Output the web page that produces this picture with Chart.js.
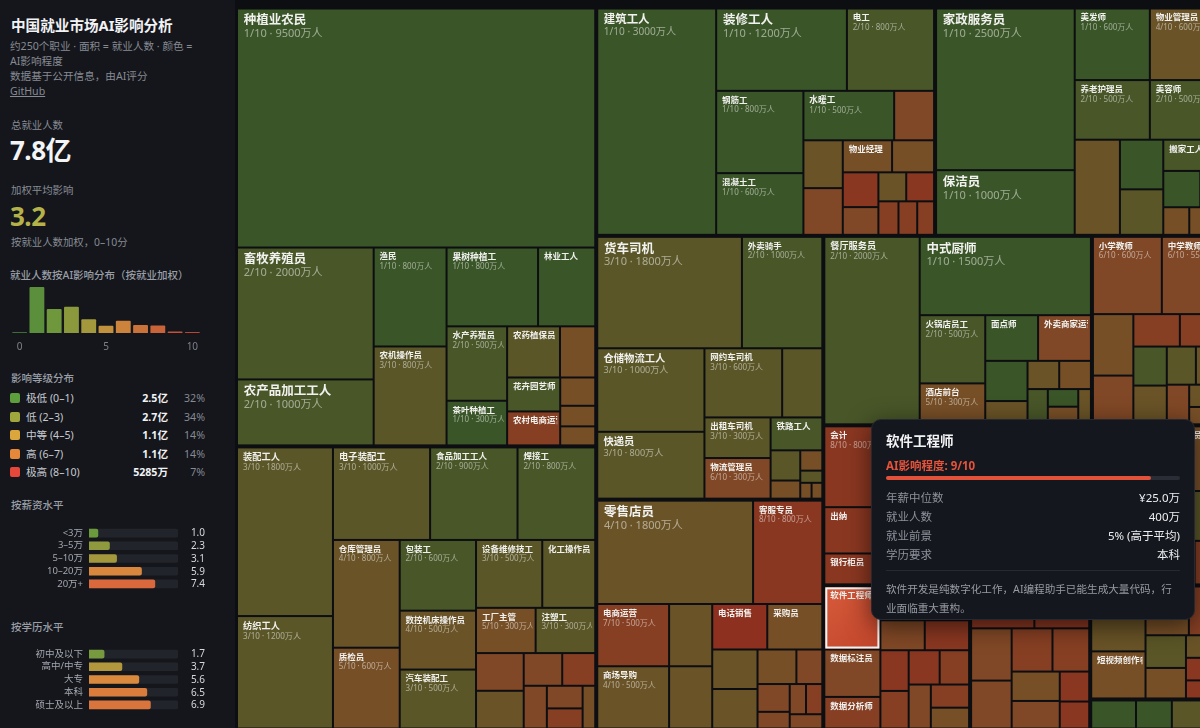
<!DOCTYPE html>
<html lang="zh-CN">
<head>
<meta charset="utf-8">
<title>中国就业市场AI影响分析</title>
<script src="https://cdn.jsdelivr.net/npm/chart.js@4.4.1/dist/chart.umd.min.js"></script>
<style>
  html, body { margin:0; padding:0; width:1200px; height:728px; overflow:hidden; background:#0c0e12; }
  body { position:relative; font-family:"Noto Sans","Noto Sans CJK SC",sans-serif; color:#e8e9eb; }
  #side { position:absolute; left:0; top:0; width:235px; height:728px; background:#14161c; }
  .a { position:absolute; white-space:nowrap; }
  .g { color:#878b93; font-size:10.4px; line-height:16px; }
  .h { color:#9a9ea6; font-size:10.5px; line-height:16px; font-weight:500; }
  #title { left:11px; top:15px; font-size:14.6px; line-height:20px; font-weight:700; color:#f1f2f4; }
  #sub { left:10px; top:38.5px; font-size:10.6px; line-height:15px; color:#868a92; }
  #sub u { color:#868a92; }
  .big { left:10px; font-size:26px; line-height:30px; font-weight:700; letter-spacing:-0.5px; }
  .lg { position:absolute; left:0; width:235px; height:18px; font-size:10.6px; line-height:18px; }
  .lg i { position:absolute; left:10px; top:4px; width:10px; height:10px; border-radius:2px; }
  .lg .n { position:absolute; left:26px; color:#c6c9cf; }
  .lg .v { position:absolute; right:67px; color:#f1f2f4; font-weight:700; }
  .lg .p { position:absolute; right:30px; color:#868a92; }
  canvas { position:absolute; }
  #tm { left:236px; top:0; }
  #tip { position:absolute; left:871px; top:419px; width:324px; height:201px; box-sizing:border-box;
         background:#15171e; border:1px solid #262931; border-radius:10px; box-shadow:0 6px 24px rgba(0,0,0,0.55); }
  #tip .tt { position:absolute; left:14px; top:11px; font-size:13.5px; line-height:20px; font-weight:700; color:#f3f4f6; }
  #tip .ta { position:absolute; left:14px; top:38px; font-size:11.5px; line-height:16px; font-weight:700; color:#e5533b; }
  #tip .tb { position:absolute; left:14px; top:56px; width:294px; height:4px; border-radius:2px; background:#2a2d35; }
  #tip .tbf { height:4px; border-radius:2px; background:#e2523a; }
  #tip .tr { position:absolute; left:14px; width:294px; height:19px; font-size:11.5px; line-height:19px; }
  #tip .tr .l { position:absolute; left:0; color:#8e929b; }
  #tip .tr .r { position:absolute; right:0; color:#eceef1; }
  #tip .td { position:absolute; left:14px; top:150px; width:294px; height:1px; background:#262932; }
  #tip .tx { position:absolute; left:14px; top:159.5px; width:300px; font-size:10.6px; line-height:19px; color:#979ba3; white-space:nowrap; }
</style>
</head>
<body>
<div id="side">
  <div class="a" id="title">中国就业市场AI影响分析</div>
  <div class="a" id="sub">约250个职业 · 面积 = 就业人数 · 颜色 =<br>AI影响程度<br>数据基于公开信息，由AI评分<br><u>GitHub</u></div>
  <div class="a g" style="left:11px;top:117px;">总就业人数</div>
  <div class="a big" id="totalNum" style="top:135px;color:#f3f4f6;"></div>
  <div class="a g" style="left:11px;top:182px;">加权平均影响</div>
  <div class="a big" id="avgNum" style="top:201px;color:#b5b24a;"></div>
  <div class="a g" style="left:11px;top:234px;">按就业人数加权，0–10分</div>
  <div class="a h" style="left:10px;top:267px;">就业人数按AI影响分布（按就业加权）</div>
  <canvas id="hist" width="197" height="77" style="left:9px;top:283px;"></canvas>
  <div class="a h" style="left:11px;top:370px;">影响等级分布</div>
  <div id="legend"></div>
  <div class="a h" style="left:11px;top:497px;">按薪资水平</div>
  <canvas id="sal" width="235" height="87" style="left:0;top:515px;"></canvas>
  <div class="a h" style="left:11px;top:619px;">按学历水平</div>
  <canvas id="edu" width="235" height="87" style="left:0;top:636px;"></canvas>
</div>
<canvas id="tm" width="990" height="736"></canvas>
<div id="tip"></div>

<script>
const FONT = '"Noto Sans", "Noto Sans CJK SC", sans-serif';

// ---------- sidebar data ----------
const totalLabel = '7.8亿';
const avgLabel = '3.2';
const histLabels = ['0','1','2','3','4','5','6','7','8','9','10'];
const histShown = ['0','5','10'];
const histValues = [500, 24500, 12800, 14000, 7300, 3800, 6500, 4300, 4000, 800, 485];
const histColors = ['#3f6e35','#5b8f3b','#6f973c','#8b993c','#a3983c','#c2913e','#cc833c','#c9733a','#c86438','#c45136','#b94533'];

const levelNames = ['极低 (0–1)','低 (2–3)','中等 (4–5)','高 (6–7)','极高 (8–10)'];
const levelValues = ['2.5亿','2.7亿','1.1亿','1.1亿','5285万'];
const levelPct = ['32%','34%','14%','14%','7%'];
const levelColors = ['#5c9f3c','#9ea63c','#dba63c','#e6883a','#e5473b'];

const salaryLabels = ['<3万','3–5万','5–10万','10–20万','20万+'];
const salaryValues = [1.0, 2.3, 3.1, 5.9, 7.4];
const salaryColors = ['#6b9a3d','#8e9a3d','#a4983d','#d8873d','#d9693c'];
const eduLabels = ['初中及以下','高中/中专','大专','本科','硕士及以上'];
const eduValues = [1.7, 3.7, 5.6, 6.5, 6.9];
const eduColors = ['#769a3d','#b3973d','#d98a3d','#d97c3c','#d9743c'];

// ---------- treemap data ----------
const groupNames = ['农林牧渔','制造业','建筑','生活服务','交通物流','零售销售','餐饮住宿','教育','金融财务','信息技术','医疗卫生','行政办公','商务服务','文化传媒','公共服务'];
const jobNames = [
  ['种植业农民','畜牧养殖员','农产品加工工人','渔民','农机操作员','果树种植工','林业工人','水产养殖员','茶叶种植工','农药植保员','兽医','花卉园艺师','农村电商运营','饲料加工工','农技推广员','护林员'],
  ['装配工人','纺织工人','电子装配工','食品加工工人','焊接工','仓库管理员','质检员','包装工','数控机床操作员','汽车装配工','设备维修技工','化工操作员','工厂主管','注塑工','生产计划员','钳工','物料员','工艺工程师','安全员','电镀工','制图员','锅炉工'],
  ['建筑工人','装修工人','电工','钢筋工','混凝土工','水暖工','工程预算员','瓦工','建筑制图员','物业经理','安全监理','工程造价师','施工员','油漆工','资料员','测绘员','建筑设计师','质量检测员'],
  ['家政服务员','保洁员','美发师','物业管理员','养老护理员','美容师','洗衣店员工','月嫂','洗车工','搬家工人','育婴师','宠物美容师','摄影助理','婚礼策划师','修鞋匠'],
  ['货车司机','外卖骑手','仓储物流工人','快递员','网约车司机','公交司机','出租车司机','物流管理员','铁路工人','港口装卸工','调度员','货运代理','叉车司机','航空地勤','船员'],
  ['零售店员','客服专员','电商运营','商场导购','收银员','超市理货员','电话销售','采购员','促销员','房产中介','保险销售','市场专员','汽车销售','药店店员','珠宝销售','直播带货','奢侈品顾问'],
  ['餐厅服务员','中式厨师','火锅店员工','酒店前台','面点师','外卖商家运营','西餐厨师','咖啡师','奶茶店员','客房服务员','洗碗工','烧烤师傅','调酒师','餐饮店长'],
  ['小学教师','中学教师','大学教师','培训讲师','家教','教务管理员','幼儿园教师','体育教练','特殊教育教师','职业培训师','课程设计师','图书管理员','教育顾问'],
  ['会计','保险代理人','出纳','银行柜员','审计师','理财顾问','税务专员','保险理赔员'],
  ['软件工程师','数据标注员','数据分析师','产品经理','测试工程师','运维工程师','UI设计师','网页设计师','算法工程师','前端开发','游戏策划','IT技术支持','数据库管理员','网络安全工程师'],
  ['护士','医生','药剂师','医疗器械销售','护工','检验技师','康复治疗师','影像技师','牙科助理','中医'],
  ['行政文员','公务员','人力资源专员','前台接待','秘书','社区工作者','法律助理','档案管理员'],
  ['翻译','文案策划','律师','咨询顾问','市场调研员','广告设计师','会展策划','公关专员','编辑','校对员'],
  ['主播','短视频创作者','摄影师','记者','演员','音乐人','导演','剪辑师','配音员'],
  ['环卫工人','消防员','园林绿化工','停车管理员']
];
const jobValues = [
  [9500,2000,1000,800,800,800,500,500,300,300,200,200,200,110,80,74],
  [1800,1200,1000,900,800,800,600,600,500,500,500,400,300,300,200,200,140,120,110,90,80,60],
  [3000,1200,800,800,600,500,220,210,205,176,150,138,110,90,90,75,70,63],
  [2500,1000,600,600,500,500,480,240,220,215,150,100,80,60,50],
  [1800,1000,1000,800,600,310,300,300,190,100,60,50,30,20,19],
  [1800,800,500,500,300,300,280,280,200,200,150,100,100,60,55,55,52],
  [2000,1500,500,300,270,270,190,110,100,100,80,60,60,50],
  [600,550,280,222,170,165,147,146,125,125,100,90,70],
  [800,520,300,200,200,200,190,170],
  [400,300,200,180,160,150,150,130,120,120,114,110,100,90],
  [500,400,250,200,200,180,170,150,130,120],
  [500,400,300,250,200,200,200,150],
  [300,260,240,220,200,180,160,150,100,90],
  [400,290,240,200,150,140,100,100,80],
  [150,120,100,78]
];
const jobScores = [
  [1,2,2,1,3,1,1,2,1,3,5,2,7,5,5,5],
  [3,3,3,2,2,4,5,2,4,3,3,3,5,3,6,4,6,7,6,6,7,5],
  [1,1,2,1,1,1,6,4,6,5,5,8,6,4,8,7,7,7],
  [1,1,1,4,2,2,4,1,3,2,1,1,5,5,2],
  [3,2,3,3,3,3,3,6,2,3,5,5,3,5,5],
  [4,8,7,4,4,4,9,5,4,4,5,6,6,6,6,7,6],
  [2,1,2,5,1,6,1,4,4,5,2,1,5,4],
  [6,6,5,6,7,7,2,4,3,4,6,4,5],
  [8,6,8,8,7,7,8,8],
  [9,6,7,7,8,6,8,8,7,8,7,6,7,5],
  [3,4,6,5,1,5,3,7,3,3],
  [8,5,7,6,8,3,8,7],
  [8,8,6,6,7,7,5,6,8,8],
  [4,5,5,7,3,5,4,8,8],
  [1,1,3,2]
];
const scoreColors = ['#33552a','#3a5527','#485628','#5a5627','#695327','#774f27','#804826','#863f23','#8a3721','#8e301f','#90291d'];
const highlightJob = '软件工程师';

// ---------- tooltip data ----------
const tipTitle = '软件工程师';
const tipScore = 9;
const tipRowLabels = ['年薪中位数','就业人数','就业前景','学历要求'];
const tipRowValues = ['¥25.0万','400万','5% (高于平均)','本科'];
const tipDesc = ['软件开发是纯数字化工作，AI编程助手已能生成大量代码，行','业面临重大重构。'];

Chart.defaults.font.family = FONT;

// ---------- sidebar ----------
document.getElementById('totalNum').textContent = totalLabel;
document.getElementById('avgNum').textContent = avgLabel;
const legendEl = document.getElementById('legend');
const legendY = [398, 416.5, 435, 453.5, 472];
levelNames.forEach((n, i) => {
  const d = document.createElement('div');
  d.className = 'lg';
  d.style.top = (legendY[i] - 9) + 'px';
  d.innerHTML = `<i style="background:${levelColors[i]}"></i><span class="n">${n}</span><span class="v">${levelValues[i]}</span><span class="p">${levelPct[i]}</span>`;
  legendEl.appendChild(d);
});

new Chart(document.getElementById('hist'), {
  type: 'bar',
  data: { labels: histLabels, datasets: [{ data: histValues, backgroundColor: histColors, categoryPercentage: 1, barPercentage: 0.86, borderRadius: 1 }] },
  options: {
    responsive: false, animation: false, events: [],
    layout: { padding: 0 },
    plugins: { legend: { display: false }, tooltip: { enabled: false } },
    scales: {
      x: { grid: { display: false, drawTicks: false }, border: { display: false },
           ticks: { color: '#7d8189', font: { size: 10 }, padding: 8, autoSkip: false, maxRotation: 0,
                    callback: (v, i) => histShown.includes(histLabels[i]) ? histLabels[i] : '' },
           afterFit: s => { s.height = 27; } },
      y: { display: false, min: 0, max: 26630 }
    }
  }
});

const valuePlugin = {
  id: 'vals',
  afterDraw(chart) {
    const { ctx } = chart; const ys = chart.scales.y; const vals = chart.data.datasets[0].data;
    ctx.save();
    ctx.font = '10px ' + FONT; ctx.fillStyle = '#d6d8dc'; ctx.textAlign = 'right'; ctx.textBaseline = 'middle';
    vals.forEach((v, i) => ctx.fillText(v.toFixed(1), 205, ys.getPixelForValue(i) + 0.5));
    ctx.restore();
  }
};
function barList(id, labels, values, colors) {
  new Chart(document.getElementById(id), {
    type: 'bar',
    data: { labels, datasets: [
      { data: values, backgroundColor: colors, barThickness: 8, borderRadius: 2, grouped: false, order: 0 },
      { data: labels.map(() => 10), backgroundColor: '#21242b', barThickness: 8, borderRadius: 2, grouped: false, order: 1 }
    ] },
    options: {
      indexAxis: 'y', responsive: false, animation: false, events: [],
      layout: { padding: { left: 0, right: 57, top: 0, bottom: 0 } },
      plugins: { legend: { display: false }, tooltip: { enabled: false } },
      scales: {
        x: { min: 0, max: 10, display: false },
        y: { grid: { display: false, drawTicks: false }, border: { display: false },
             ticks: { color: '#a3a7ae', font: { size: 9.5 }, padding: 6 },
             afterFit: s => { s.width = 89; } }
      }
    },
    plugins: [valuePlugin]
  });
}
barList('sal', salaryLabels, salaryValues, salaryColors);
barList('edu', eduLabels, eduValues, eduColors);

// ---------- treemap layout (squarify, ratio 1) ----------
function squarify(nodes, x0, y0, x1, y1) {
  let value = nodes.reduce((s, n) => s + n.value, 0);
  let i0 = 0, i1 = 0; const n = nodes.length;
  while (i0 < n) {
    const dx = x1 - x0, dy = y1 - y0;
    let sumValue = nodes[i1++].value;
    let minValue = sumValue, maxValue = sumValue;
    const alpha = Math.max(dy / dx, dx / dy) / value;
    let beta = sumValue * sumValue * alpha;
    let minRatio = Math.max(maxValue / beta, beta / minValue);
    for (; i1 < n; ++i1) {
      const nv = nodes[i1].value;
      sumValue += nv;
      if (nv < minValue) minValue = nv;
      if (nv > maxValue) maxValue = nv;
      beta = sumValue * sumValue * alpha;
      const newRatio = Math.max(maxValue / beta, beta / minValue);
      if (newRatio > minRatio) { sumValue -= nv; break; }
      minRatio = newRatio;
    }
    const row = nodes.slice(i0, i1);
    if (dx < dy) {
      const yy = i1 < n ? y0 + dy * sumValue / value : y1;
      let xx = x0; const k = (x1 - x0) / sumValue;
      row.forEach(nd => { nd.x0 = xx; xx += nd.value * k; nd.x1 = xx; nd.y0 = y0; nd.y1 = yy; });
      y0 = yy;
    } else {
      const xx = i1 < n ? x0 + dx * sumValue / value : x1;
      let yy = y0; const k = (y1 - y0) / sumValue;
      row.forEach(nd => { nd.y0 = yy; yy += nd.value * k; nd.y1 = yy; nd.x0 = x0; nd.x1 = xx; });
      x0 = xx;
    }
    value -= sumValue; i0 = i1;
  }
}
const groups = groupNames.map((g, gi) => {
  const children = jobNames[gi].map((name, i) => ({ name, value: jobValues[gi][i], score: jobScores[gi][i] }));
  children.sort((a, b) => b.value - a.value);
  return { name: g, children, value: children.reduce((s, c) => s + c.value, 0) };
});
groups.sort((a, b) => b.value - a.value);
const TM = { x0: 0, y0: 7.5, x1: 990, y1: 729.5 };
const GPAD = 1, CPAD = 1;
squarify(groups, TM.x0, TM.y0, TM.x1, TM.y1);
const leaves = [];
groups.forEach(g => {
  squarify(g.children, g.x0 + GPAD, g.y0 + GPAD, g.x1 - GPAD, g.y1 - GPAD);
  g.children.forEach(c => leaves.push(c));
});

const treemapPlugin = {
  id: 'treemap',
  afterDatasetsDraw(chart) {
    const { ctx, chartArea } = chart; const xs = chart.scales.x, ys = chart.scales.y;
    ctx.save();
    ctx.beginPath(); ctx.rect(chartArea.left, chartArea.top, chartArea.right - chartArea.left, chartArea.bottom - chartArea.top); ctx.clip();
    leaves.forEach(l => {
      const px0 = xs.getPixelForValue(l.x0) + CPAD, px1 = xs.getPixelForValue(l.x1) - CPAD;
      const py0 = ys.getPixelForValue(l.y0) + CPAD, py1 = ys.getPixelForValue(l.y1) - CPAD;
      const w = px1 - px0, h = py1 - py0;
      if (w <= 0 || h <= 0) return;
      const hl = l.name === highlightJob;
      if (hl) {
        const gr = ctx.createLinearGradient(px0, py0, px1, py1);
        gr.addColorStop(0, '#d65a3a'); gr.addColorStop(1, '#c1452b');
        ctx.fillStyle = gr;
      } else ctx.fillStyle = scoreColors[l.score];
      ctx.fillRect(px0, py0, w, h);
      if (hl) { ctx.strokeStyle = '#f4f4f4'; ctx.lineWidth = 2; ctx.strokeRect(px0 + 1, py0 + 1, w - 2, h - 2); }
      if (w >= 46.5 && h >= 22) {
        const nf = Math.max(8.5, Math.min(12.5, w / 10.2));
        const sf = Math.max(8, nf * 0.88);
        const tx = px0 + 3 + nf * 0.22;
        const ny = py0 + 2.5 + nf * 0.7;
        ctx.save();
        ctx.beginPath(); ctx.rect(px0, py0, w - 2, h); ctx.clip();
        ctx.textBaseline = 'middle'; ctx.textAlign = 'left';
        ctx.font = `bold ${nf}px ${FONT}`; ctx.fillStyle = '#f1f1ef';
        ctx.fillText(l.name, tx, ny);
        if (w >= 56.5 && h >= 34) {
          ctx.font = `${sf}px ${FONT}`; ctx.fillStyle = 'rgba(255,255,255,0.5)';
          ctx.fillText(`${l.score}/10 · ${l.value}万人`, tx, ny + 3 + nf * 0.8);
        }
        ctx.restore();
      }
    });
    ctx.restore();
  }
};
new Chart(document.getElementById('tm'), {
  type: 'scatter',
  data: { datasets: [{ data: leaves.map(l => ({ x: (l.x0 + l.x1) / 2, y: (l.y0 + l.y1) / 2 })), pointRadius: 0 }] },
  options: {
    responsive: false, animation: false, events: [],
    layout: { padding: 0 },
    plugins: { legend: { display: false }, tooltip: { enabled: false } },
    scales: { x: { type: 'linear', min: 0, max: 990, display: false }, y: { type: 'linear', min: 0, max: 736, reverse: true, display: false } }
  },
  plugins: [treemapPlugin]
});

// ---------- tooltip ----------
const tip = document.getElementById('tip');
let html = `<div class="tt">${tipTitle}</div><div class="ta">AI影响程度: ${tipScore}/10</div>`;
html += `<div class="tb"><div class="tbf" style="width:${tipScore * 10}%"></div></div>`;
tipRowLabels.forEach((l, i) => { html += `<div class="tr" style="top:${67.5 + i * 19}px"><span class="l">${l}</span><span class="r">${tipRowValues[i]}</span></div>`; });
html += `<div class="td"></div><div class="tx">${tipDesc.join('<br>')}</div>`;
tip.innerHTML = html;
</script>
</body>
</html>
